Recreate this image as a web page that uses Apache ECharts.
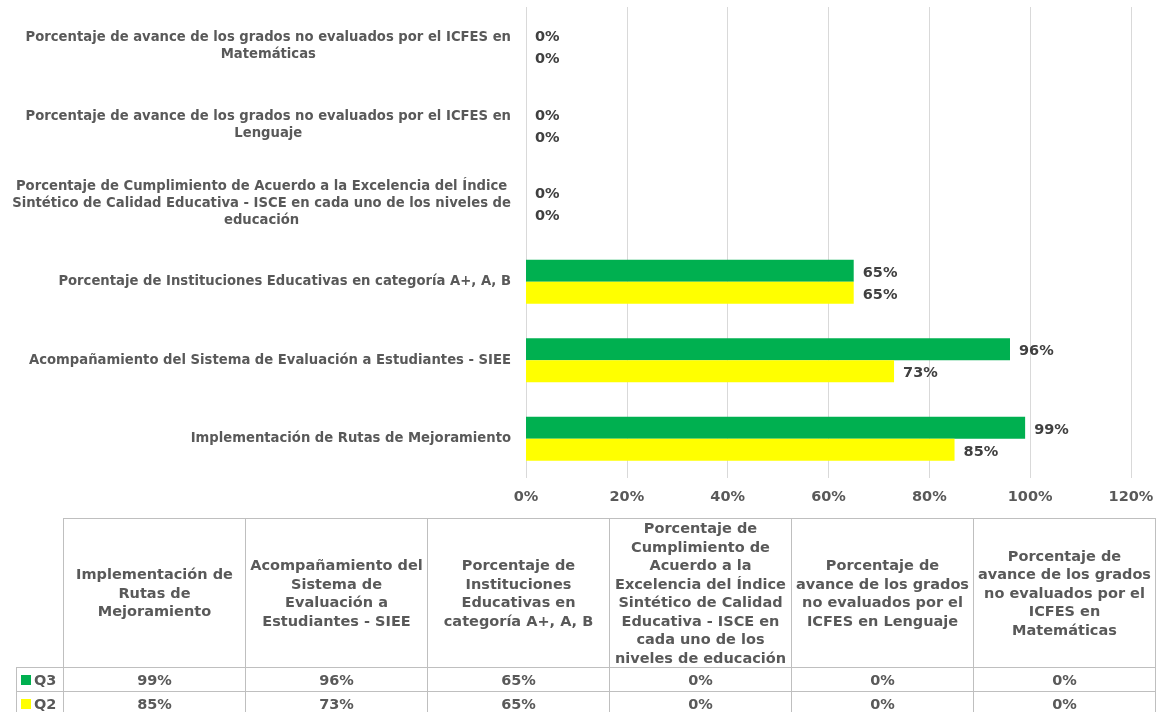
<!DOCTYPE html>
<html>
<head>
<meta charset="utf-8">
<script src="https://cdn.jsdelivr.net/npm/echarts@6/dist/echarts.min.js"></script>
<style>
  html, body { margin: 0; padding: 0; background: #fff; }
  #main { position: absolute; left: 0; top: 0; width: 1158px; height: 712px; }
  #tabla { position: absolute; left: 16px; top: 518px; border-collapse: collapse; table-layout: fixed;
    font-family: "DejaVu Sans", sans-serif; font-weight: bold; color: #595959; }
  #tabla td { border: 1px solid #bfbfbf; text-align: center; vertical-align: middle; padding: 0; white-space: nowrap; }
  #tabla tr.head td { height: 147px; font-size: 14.5px; line-height: 18.5px; }
  #tabla tr.fila td { height: 23px; font-size: 14.5px; line-height: 18px; }
  #tabla td.vacia { border-top: none; border-left: none; }
  #tabla td.serie { text-align: left; font-size: 15px; }
  .marca { display: inline-block; width: 10px; height: 10px; margin: 0 3px 0 4px; }
</style>
</head>
<body>
<div id="main"></div>
<table id="tabla"></table>
<script>
// categorias (de abajo hacia arriba en el grafico), con los saltos de linea del eje
var categorias = [
    "Implementación de Rutas de Mejoramiento",
    "Acompañamiento del Sistema de Evaluación a Estudiantes - SIEE",
    "Porcentaje de Instituciones Educativas en categoría A+, A, B",
    "Porcentaje de Cumplimiento de Acuerdo a la Excelencia del Índice\nSintético de Calidad Educativa - ISCE en cada uno de los niveles de\neducación",
    "Porcentaje de avance de los grados no evaluados por el ICFES en\nLenguaje",
    "Porcentaje de avance de los grados no evaluados por el ICFES en\nMatemáticas"
];
// mismos nombres, cortados como en la tabla de datos
var encabezados = [
    "Implementación de\nRutas de\nMejoramiento",
    "Acompañamiento del\nSistema de\nEvaluación a\nEstudiantes - SIEE",
    "Porcentaje de\nInstituciones\nEducativas en\ncategoría A+, A, B",
    "Porcentaje de\nCumplimiento de\nAcuerdo a la\nExcelencia del Índice\nSintético de Calidad\nEducativa - ISCE en\ncada uno de los\nniveles de educación",
    "Porcentaje de\navance de los grados\nno evaluados por el\nICFES en Lenguaje",
    "Porcentaje de\navance de los grados\nno evaluados por el\nICFES en\nMatemáticas"
];
var q3 = [99, 96, 65, 0, 0, 0];
var q2 = [85, 73, 65, 0, 0, 0];
var nombres = ["Q3", "Q2"];
var colores = ["#00B050", "#FFFF00"];
var ticks = [0, 20, 40, 60, 80, 100, 120];

var fuente = '"DejaVu Sans", sans-serif';
var myChart = echarts.init(document.getElementById('main'));

function etiquetaBarra() {
    return {
        show: true, position: "right", distance: 9, offset: [0, 2],
        color: "#404040", fontSize: 14.5, fontWeight: "bold", fontFamily: fuente,
        formatter: "{c}%"
    };
}

var option = {
    animation: false,
    grid: { left: 526, right: 27, top: 7, bottom: 234 },
    xAxis: {
        type: "value",
        min: ticks[0],
        max: ticks[ticks.length - 1],
        interval: 20,
        axisLine: { show: false },
        axisTick: { show: false },
        splitLine: { lineStyle: { color: "#d9d9d9", width: 1 } },
        axisLabel: {
            margin: 12,
            color: "#595959",
            fontSize: 14.5,
            fontWeight: "bold",
            fontFamily: fuente,
            formatter: "{value}%"
        }
    },
    yAxis: {
        type: "category",
        data: categorias,
        axisLine: { show: false },
        axisTick: { show: false },
        axisLabel: {
            margin: 15,
            align: "right",
            color: "#595959",
            fontSize: 13.2,
            fontWeight: "bold",
            fontFamily: fuente,
            lineHeight: 17,
            formatter: function (value) {
                return value.split("\n").map(function (l) { return "{c|" + l + "}"; }).join("\n");
            },
            rich: {
                c: { align: "center", color: "#595959", fontSize: 13.2, fontWeight: "bold", fontFamily: fuente, lineHeight: 17 }
            }
        }
    },
    series: [
        {
            name: nombres[0],
            type: "bar",
            data: q3,
            barWidth: 22,
            barGap: "0%",
            itemStyle: { color: colores[0] },
            label: etiquetaBarra()
        },
        {
            name: nombres[1],
            type: "bar",
            data: q2,
            barWidth: 22,
            barGap: "0%",
            itemStyle: { color: colores[1] },
            label: etiquetaBarra()
        }
    ]
};
myChart.setOption(option);

// tabla de datos debajo del grafico
var tabla = document.getElementById("tabla");
var html = '<colgroup><col style="width:47px">';
for (var i = 0; i < encabezados.length; i++) html += '<col style="width:182px">';
html += '</colgroup><tr class="head"><td class="vacia"></td>';
encabezados.forEach(function (c) { html += "<td>" + c.replace(/\n/g, "<br>") + "</td>"; });
html += "</tr>";
[q3, q2].forEach(function (serie, k) {
    html += '<tr class="fila"><td class="serie"><span class="marca" style="background:' + colores[k] + '"></span>' + nombres[k] + "</td>";
    serie.forEach(function (v) { html += "<td>" + v + "%</td>"; });
    html += "</tr>";
});
tabla.innerHTML = html;
</script>
</body>
</html>
